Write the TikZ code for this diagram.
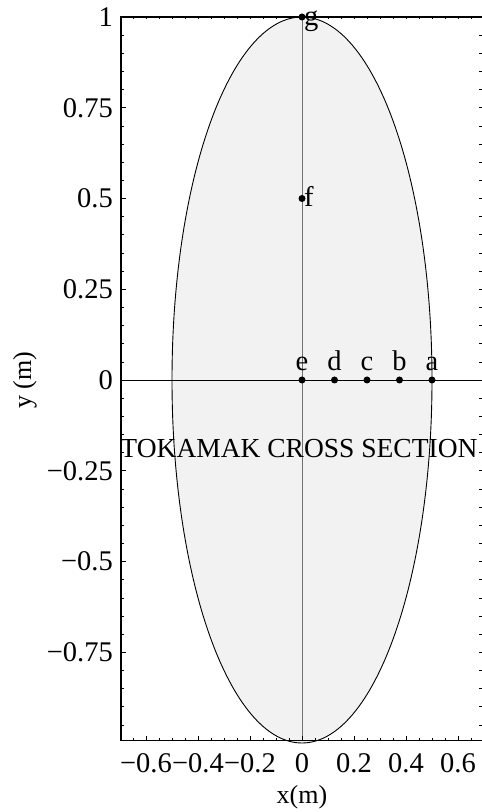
\documentclass[tikz,border=0pt]{standalone}
\usepackage{fontspec}
\setmainfont{Liberation Serif}
\definecolor{ink}{HTML}{000000}
\definecolor{shade}{HTML}{F2F2F2}
\definecolor{axisgray}{HTML}{707070}
\tikzset{
  dot/.style={circle,fill=ink,inner sep=0pt,minimum size=7pt},
  lbl/.style={inner sep=0pt,font=\fontsize{28.5}{32}\selectfont},
  ticklbl/.style={inner sep=0pt,font=\fontsize{28.5}{32}\selectfont},
  axislbl/.style={inner sep=0pt,font=\fontsize{26}{30}\selectfont}
}

\begin{document}
\begin{tikzpicture}[x=260pt,y=363pt,text=ink]
  \useasboundingbox (-1.16154,-1.19008) rectangle (0.68846,1.04683);

  \path[fill=shade,draw=ink,line width=0.9pt] (0,0) ellipse [x radius=0.5,y radius=1];
  \draw[axisgray,line width=1pt] (0,-0.994) -- (0,1);
  \draw[ink,line width=0.9pt] (-0.696,0) -- (0.692,0);

  \draw[ink,line width=1.1pt] (0.692,1) -- (-0.696,1) -- (-0.696,-0.994) -- (0.692,-0.994);
  \foreach \i in {-13,...,13} {
    \draw[ink,line width=0.6pt] (\i*0.05,-0.994) -- ++(0,2.5pt);
    \draw[ink,line width=0.6pt] (\i*0.05,1) -- ++(0,-2.5pt);
  }
  \foreach \i in {-19,...,19} {
    \draw[ink,line width=0.6pt] (-0.696,\i*0.05) -- ++(2.5pt,0);
    \draw[ink,line width=0.6pt] (0.692,\i*0.05) -- ++(-3pt,0);
  }
  \foreach \v/\t in {-0.6/−0.6,-0.4/−0.4,-0.2/−0.2,0/0,0.2/0.2,0.4/0.4,0.6/0.6} {
    \draw[ink,line width=0.8pt] (\v,-0.994) -- ++(0,4.5pt);
    \node[ticklbl,anchor=north] (xt\v) at ([yshift=-12.5pt]\v,-0.994) {\t};
  }
  \foreach \v/\t in {-0.75/−0.75,-0.5/−0.5,-0.25/−0.25,0/0,0.25/0.25,0.5/0.5,0.75/0.75,1/1} {
    \draw[ink,line width=0.8pt] (-0.696,\v) -- ++(4.5pt,0);
    \node[ticklbl,anchor=east] (yt\v) at ([xshift=-8pt]-0.696,\v) {\t};
  }
  \node[axislbl] (xlabel) at (0,-1.1488) {x(m)};
  \node[axislbl,rotate=90] (ylabel) at (-1.0654,0) {y (m)};

  \node[lbl,font=\fontsize{27.5}{32}\selectfont,anchor=base] (title) at (-0.0115,-0.213) {TOKAMAK CROSS SECTION};

  \foreach \n/\x in {a/0.5,b/0.375,c/0.25,d/0.125,e/0} {
    \node[dot] (\n) at (\x,0) {};
    \node[lbl,anchor=base] (\n-lbl) at ([yshift=9.5pt]\n.center) {\n};
  }
  \foreach \n/\y in {f/0.5,g/1} {
    \node[dot] (\n) at (0,\y) {};
    \node[lbl,anchor=base west] (\n-lbl) at ([xshift=2pt,yshift=-8.5pt]\n.center) {\n};
  }
\end{tikzpicture}
\end{document}
